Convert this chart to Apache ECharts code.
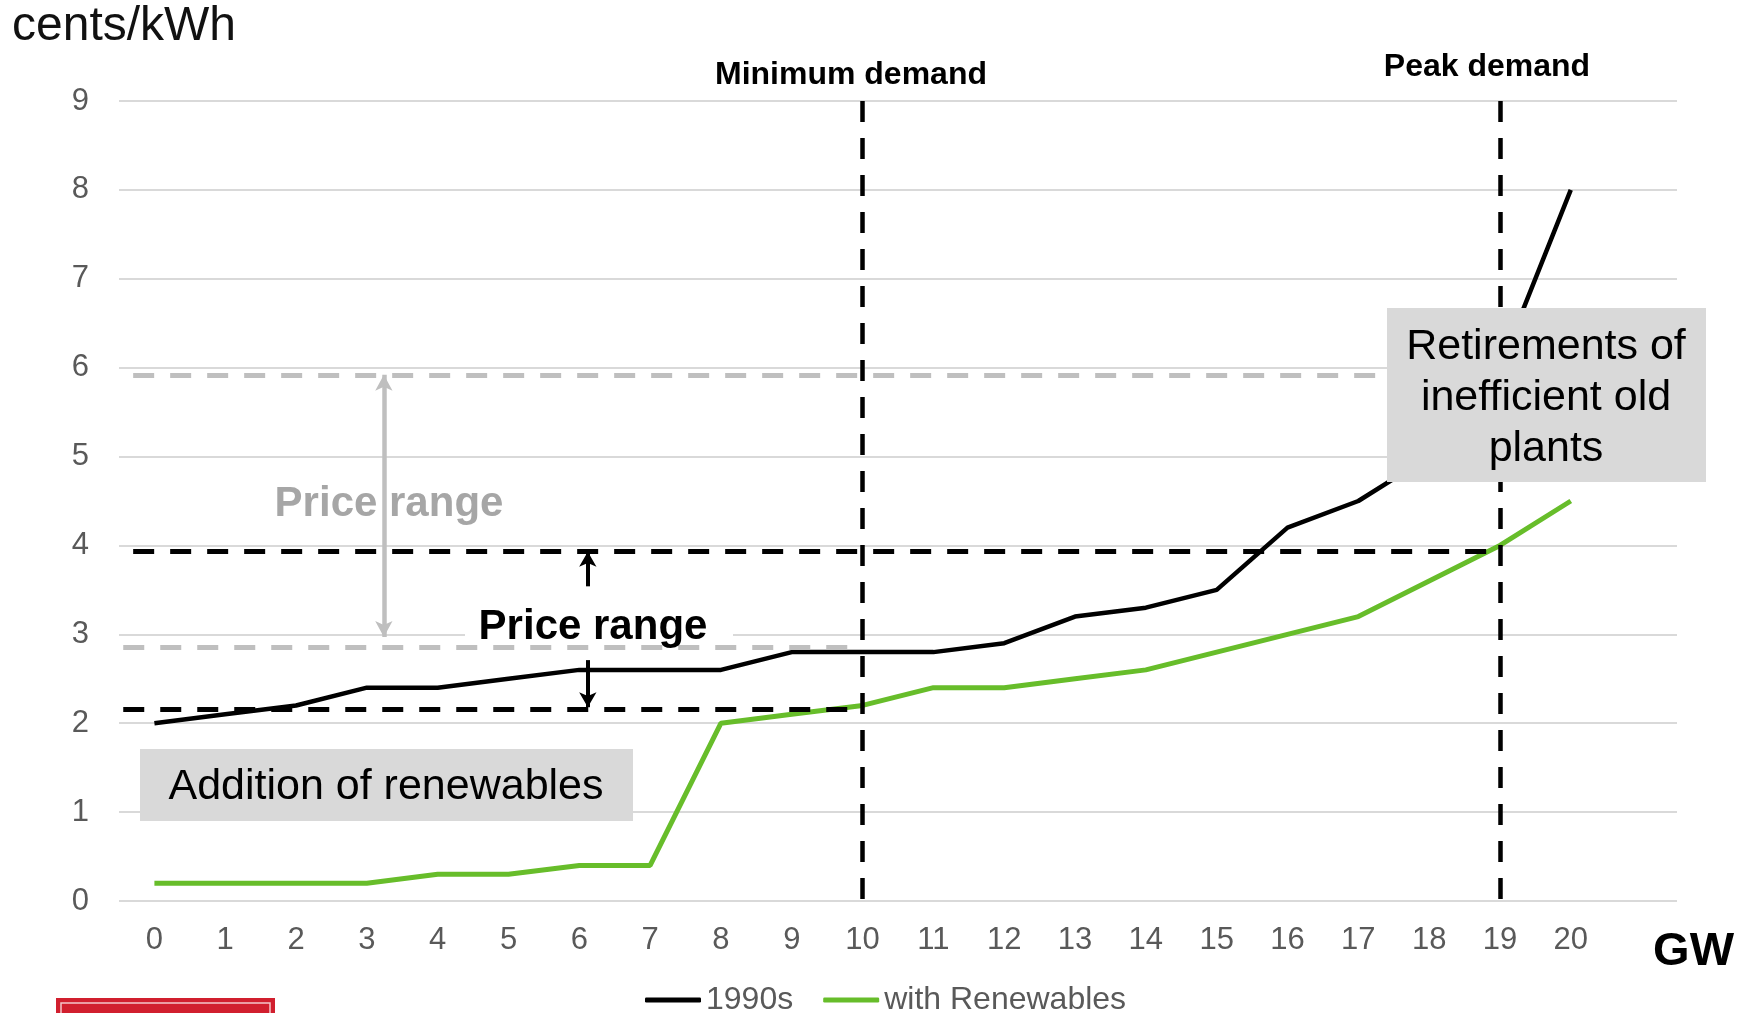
<!DOCTYPE html>
<html>
<head>
<meta charset="utf-8">
<script src="https://cdn.jsdelivr.net/npm/echarts@6/dist/echarts.min.js"></script>
<style>
  html, body { margin: 0; padding: 0; background: #fff; }
  #chart { width: 1744px; height: 1013px; }
</style>
</head>
<body>
<div id="chart"></div>
<script>
// GW categories (last slot is an empty spare column like the original)
const gwLabels = ['0', '1', '2', '3', '4', '5', '6', '7', '8', '9', '10',
  '11', '12', '13', '14', '15', '16', '17', '18', '19', '20', '']
// cents/kWh
const price1990s = [2.0, 2.1, 2.2, 2.4, 2.4, 2.5, 2.6, 2.6, 2.6, 2.8, 2.8,
  2.8, 2.9, 3.2, 3.3, 3.5, 4.2, 4.5, 5.0, 6.0, 8.0]
const priceRenewables = [0.2, 0.2, 0.2, 0.2, 0.3, 0.3, 0.4, 0.4, 2.0, 2.1, 2.2,
  2.4, 2.4, 2.5, 2.6, 2.8, 3.0, 3.2, 3.6, 4.0, 4.5]
const yTicks = [0, 9, 1] // min, max, interval

// annotation values
const demandGW = [10, 19] // minimum demand, peak demand
const rangeOld = [2.86, 5.92] // grey price range (1990s)
const rangeNew = [2.16, 3.93] // black price range (with renewables)
const lineStartGW = [-0.44, -0.3] // where the dashed range lines begin
const greyArrowGW = 3.24
const blackArrowGW = 6.12
const blackArrowUp = [3.54, 3.93]
const blackArrowDown = [2.71, 2.18]
const greyArrowEnds = [2.97, 5.92]

const FONT = '"Liberation Sans", Arial, sans-serif'
const chart = echarts.init(document.getElementById('chart'))

const dash = (color, width) => ({ type: [21, 16], width: width, color: color, cap: 'butt' })
const arrowStyle = (color, width) => ({ type: 'solid', width: width, color: color })

let option = {
  animation: false,
  grid: { left: 119, right: 67, top: 101, bottom: 112 },
  legend: {
    data: ['1990s', 'with Renewables'],
    left: 640,
    top: 979,
    icon: 'roundRect',
    itemWidth: 56,
    itemHeight: 5,
    itemGap: 30,
    textStyle: { color: '#595959', fontSize: 32, fontFamily: FONT }
  },
  xAxis: [
    {
      type: 'category',
      data: gwLabels,
      boundaryGap: true,
      axisLine: { show: false },
      axisTick: { show: false },
      axisLabel: { color: '#595959', fontSize: 31, fontFamily: FONT, margin: 24, interval: 0 }
    },
    {
      // hidden linear axis used for the annotation lines
      type: 'value',
      min: -0.5,
      max: 21.5,
      show: false
    }
  ],
  yAxis: {
    type: 'value',
    min: yTicks[0],
    max: yTicks[1],
    interval: yTicks[2],
    axisLine: { show: false },
    axisTick: { show: false },
    axisLabel: { color: '#595959', fontSize: 31, fontFamily: FONT, margin: 30 },
    splitLine: { lineStyle: { color: '#d9d9d9', width: 2 } }
  },
  series: [
    {
      name: 'annotations',
      type: 'line',
      xAxisIndex: 1,
      data: [],
      z: 2,
      markLine: {
        silent: true,
        symbol: 'none',
        label: { show: false },
        data: [
          // grey dashed range lines
          [{ coord: [lineStartGW[1], rangeOld[1]], lineStyle: dash('#bfbfbf', 5) }, { coord: [demandGW[1], rangeOld[1]] }],
          [{ coord: [lineStartGW[0], rangeOld[0]], lineStyle: dash('#bfbfbf', 5) }, { coord: [demandGW[0], rangeOld[0]] }],
          // black dashed range lines
          [{ coord: [lineStartGW[1], rangeNew[1]], lineStyle: dash('#000', 5) }, { coord: [demandGW[1], rangeNew[1]] }],
          [{ coord: [lineStartGW[0], rangeNew[0]], lineStyle: dash('#000', 5) }, { coord: [demandGW[0], rangeNew[0]] }],
          // demand verticals
          [{ coord: [demandGW[0], yTicks[1]], lineStyle: dash('#000', 4.5) }, { coord: [demandGW[0], yTicks[0]] }],
          [{ coord: [demandGW[1], yTicks[1]], lineStyle: dash('#000', 4.5) }, { coord: [demandGW[1], yTicks[0]] }],
          // grey double arrow
          [
            { coord: [greyArrowGW, greyArrowEnds[0]], symbol: 'arrow', symbolSize: [13, 16], lineStyle: arrowStyle('#bfbfbf', 4.5) },
            { coord: [greyArrowGW, greyArrowEnds[1]], symbol: 'arrow', symbolSize: [13, 16] }
          ],
          // black arrows
          [
            { coord: [blackArrowGW, blackArrowUp[0]], symbol: 'none', lineStyle: arrowStyle('#000', 4) },
            { coord: [blackArrowGW, blackArrowUp[1]], symbol: 'arrow', symbolSize: [13, 15] }
          ],
          [
            { coord: [blackArrowGW, blackArrowDown[0]], symbol: 'none', lineStyle: arrowStyle('#000', 4) },
            { coord: [blackArrowGW, blackArrowDown[1]], symbol: 'arrow', symbolSize: [13, 15] }
          ]
        ]
      }
    },
    {
      name: '1990s',
      type: 'line',
      data: price1990s,
      symbol: 'none',
      z: 3,
      lineStyle: { color: '#000', width: 4.5 },
      itemStyle: { color: '#000' }
    },
    {
      name: 'with Renewables',
      type: 'line',
      data: priceRenewables,
      symbol: 'none',
      z: 3,
      lineStyle: { color: '#67bd2a', width: 5 },
      itemStyle: { color: '#67bd2a' }
    }
  ],
  graphic: [
    { type: 'text', z: 20, style: { text: 'cents/kWh', x: 12, y: 27, textVerticalAlign: 'middle', fill: '#111', font: '48px ' + FONT } },
    { type: 'text', z: 20, style: { text: 'GW', x: 1734, y: 952, textAlign: 'right', textVerticalAlign: 'middle', fill: '#000', font: 'bold 47px ' + FONT } },
    { type: 'text', z: 20, style: { text: 'Minimum demand', x: 851, y: 75, textAlign: 'center', textVerticalAlign: 'middle', fill: '#000', font: 'bold 32px ' + FONT } },
    { type: 'text', z: 20, style: { text: 'Peak demand', x: 1487, y: 67, textAlign: 'center', textVerticalAlign: 'middle', fill: '#000', font: 'bold 32px ' + FONT } },
    // grey label
    { type: 'text', z: 20, style: { text: 'Price range', x: 389, y: 504, textAlign: 'center', textVerticalAlign: 'middle', fill: '#a6a6a6', font: 'bold 42px ' + FONT } },
    // white patch behind black label
    { type: 'rect', z: 1, shape: { x: 465, y: 602, width: 268, height: 39 }, style: { fill: '#fff' } },
    { type: 'text', z: 20, style: { text: 'Price range', x: 593, y: 627, textAlign: 'center', textVerticalAlign: 'middle', fill: '#000', font: 'bold 42px ' + FONT } },
    // boxes
    { type: 'rect', z: 15, shape: { x: 140, y: 749, width: 493, height: 72 }, style: { fill: '#d9d9d9' } },
    { type: 'text', z: 20, style: { text: 'Addition of renewables', x: 386, y: 787, textAlign: 'center', textVerticalAlign: 'middle', fill: '#000', font: '43px ' + FONT } },
    { type: 'rect', z: 15, shape: { x: 1387, y: 308, width: 319, height: 174 }, style: { fill: '#d9d9d9' } },
    {
      type: 'text', z: 20,
      style: { text: 'Retirements of\ninefficient old\nplants', x: 1546, y: 398, textAlign: 'center', textVerticalAlign: 'middle', lineHeight: 51, fill: '#000', font: '43px ' + FONT }
    },
    // red logo block, cut by the frame
    { type: 'rect', z: 20, shape: { x: 56, y: 998, width: 219, height: 30 }, style: { fill: '#d11f2e' } },
    { type: 'rect', z: 21, shape: { x: 61, y: 1003, width: 209, height: 30 }, style: { fill: 'none', stroke: '#f3c6ca', lineWidth: 1.5 } }
  ]
}

option && chart.setOption(option)
</script>
</body>
</html>
